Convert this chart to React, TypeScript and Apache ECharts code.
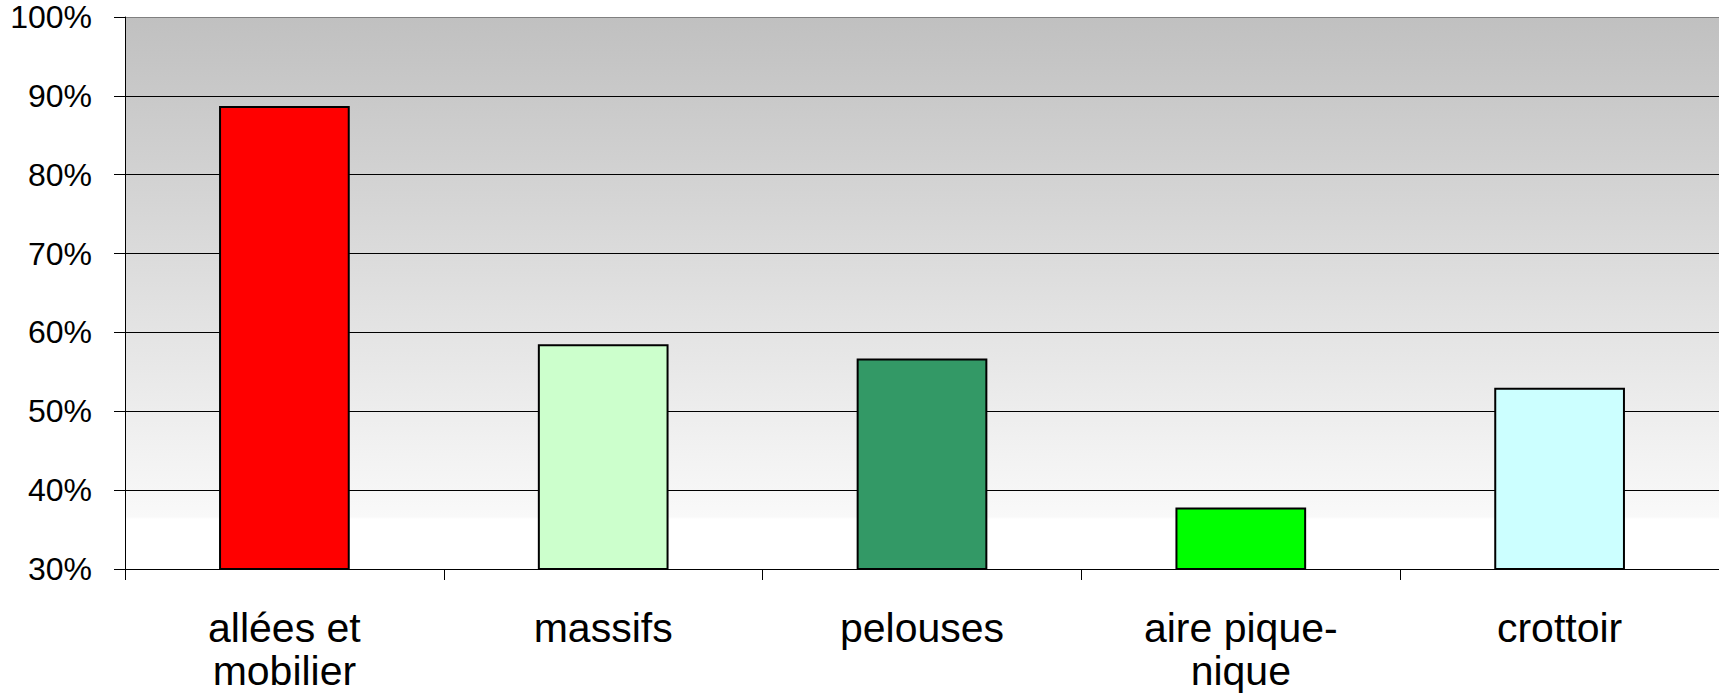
import React, { useEffect, useRef } from "react";
import * as echarts from "echarts";

const categories = ["allées et\nmobilier", "massifs", "pelouses", "aire pique-\nnique", "crottoir"];
const values = [88.7, 58.5, 56.7, 37.8, 53.0];
const barColors = ["#ff0000", "#ccffcc", "#339966", "#00ff00", "#ccffff"];
const yMin = 30;
const yMax = 100;
const yInterval = 10;

export default function App() {
  const ref = useRef<HTMLDivElement>(null);
  useEffect(() => {
    if (!ref.current) return;
    const chart = echarts.init(ref.current, null, { renderer: "svg" });
    const font = "'Liberation Sans', Arial, sans-serif";
    chart.setOption({
      animation: false,
      backgroundColor: "#ffffff",
      grid: {
        left: 125,
        right: -2,
        top: 17,
        bottom: 127,
        show: true,
        borderWidth: 0,
        backgroundColor: new echarts.graphic.LinearGradient(0, 0, 0, 1, [
          { offset: 0, color: "#c0c0c0" },
          { offset: 0.905, color: "#f9f9f9" },
          { offset: 0.91, color: "#ffffff" },
          { offset: 1, color: "#ffffff" },
        ]),
      },
      xAxis: {
        type: "category",
        data: categories,
        axisLine: { show: true, lineStyle: { color: "#000", width: 1 } },
        axisTick: { show: true, alignWithLabel: false, length: 11, lineStyle: { color: "#000" } },
        axisLabel: {
          color: "#000",
          fontFamily: font,
          fontSize: 41,
          lineHeight: 43,
          margin: 37,
          interval: 0,
        },
      },
      yAxis: {
        type: "value",
        min: yMin,
        max: yMax,
        interval: yInterval,
        axisLine: { show: true, lineStyle: { color: "#000", width: 1 } },
        axisTick: { show: true, length: 11, lineStyle: { color: "#000" } },
        axisLabel: {
          color: "#000",
          fontFamily: font,
          fontSize: 32,
          margin: 33,
          padding: [6, 0, 0, 0],
          formatter: "{value}%",
        },
        splitLine: {
          show: true,
          lineStyle: { color: ["#000", "#000", "#000", "#000", "#000", "#000", "#000", "#808080"], width: 1 },
        },
      },
      series: [
        {
          type: "bar",
          data: values.map((v, i) => ({
            value: v,
            itemStyle: { color: barColors[i] },
          })),
          barWidth: "41%",
          itemStyle: { borderColor: "#000", borderWidth: 2 },
        },
      ],
    });
    return () => chart.dispose();
  }, []);
  return (
    <div
      ref={ref}
      style={{ position: "fixed", left: 0, top: 0, width: 1719, height: 696 }}
    />
  );
}
